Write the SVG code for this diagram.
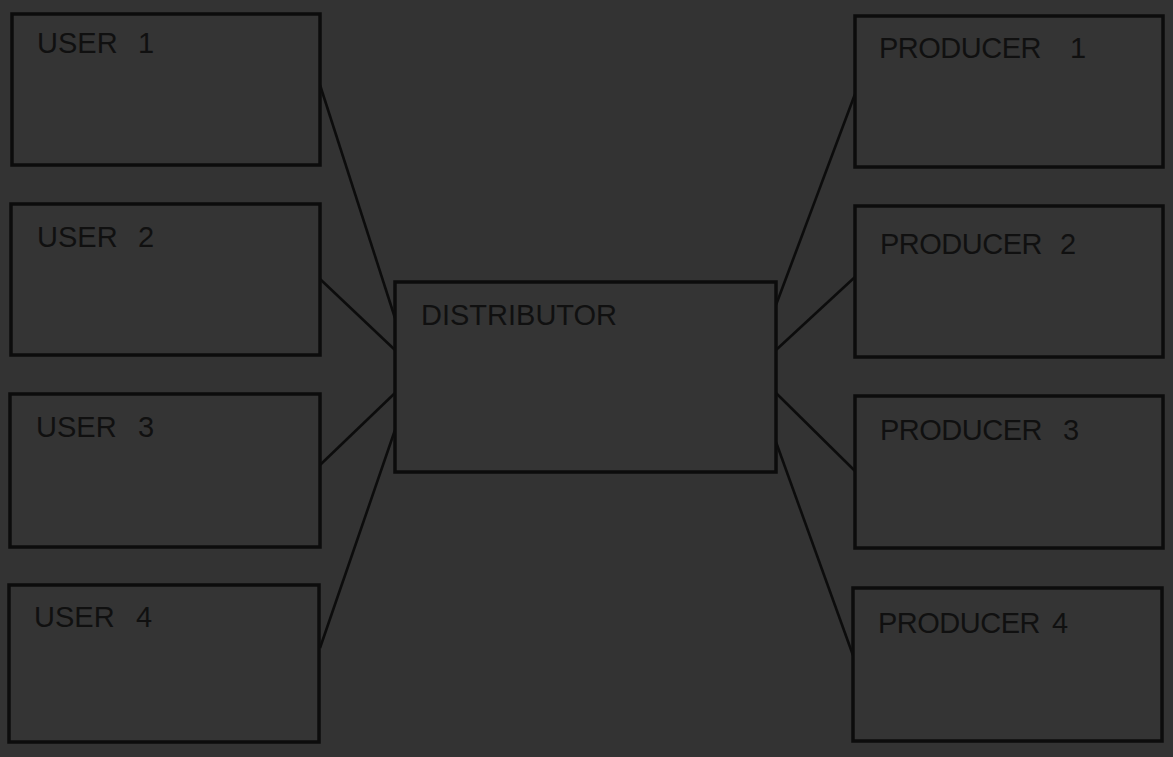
<svg xmlns="http://www.w3.org/2000/svg" width="1173" height="757" viewBox="0 0 1173 757">
<style>
.bg{fill:#333333}
.box{fill:#343434;stroke:#0c0c0c;stroke-width:3.5}
.lbl{font-family:"Liberation Sans",Arial,sans-serif;font-size:29px;fill:#101010}
.prod{letter-spacing:-0.5px}
.conn line{stroke:#0c0c0c;stroke-width:2.6}
</style>
<rect class="bg" x="0" y="0" width="1173" height="757"/>
<g id="connectors" class="conn">
<line x1="320" y1="85" x2="395" y2="318"/>
<line x1="320" y1="279" x2="395" y2="350"/>
<line x1="320" y1="465" x2="395" y2="393"/>
<line x1="320" y1="648" x2="395" y2="430"/>
<line x1="776" y1="305" x2="855" y2="94"/>
<line x1="776" y1="350" x2="855" y2="277"/>
<line x1="776" y1="393" x2="855" y2="471"/>
<line x1="776" y1="442" x2="854" y2="658"/>
</g>
<g id="user1"><rect class="box" x="12" y="14" width="308" height="151"/><text class="lbl" x="37" y="53">USER<tspan x="138">1</tspan></text></g>
<g id="user2"><rect class="box" x="11" y="204" width="309" height="151"/><text class="lbl" x="37" y="247">USER<tspan x="138">2</tspan></text></g>
<g id="user3"><rect class="box" x="10" y="394" width="310" height="153"/><text class="lbl" x="36" y="437">USER<tspan x="138">3</tspan></text></g>
<g id="user4"><rect class="box" x="9" y="585" width="310" height="157"/><text class="lbl" x="34" y="627">USER<tspan x="136">4</tspan></text></g>
<g id="distributor"><rect class="box" x="395" y="282" width="381" height="190"/><text class="lbl" x="421" y="325">DISTRIBUTOR</text></g>
<g id="producer1"><rect class="box" x="855" y="16" width="308" height="151"/><text class="lbl prod" x="879" y="58">PRODUCER<tspan x="1070">1</tspan></text></g>
<g id="producer2"><rect class="box" x="855" y="206" width="308" height="151"/><text class="lbl prod" x="880" y="254">PRODUCER<tspan x="1060">2</tspan></text></g>
<g id="producer3"><rect class="box" x="855" y="396" width="308" height="152"/><text class="lbl prod" x="880" y="440">PRODUCER<tspan x="1063">3</tspan></text></g>
<g id="producer4"><rect class="box" x="853" y="588" width="309" height="153"/><text class="lbl prod" x="878" y="633">PRODUCER<tspan x="1052">4</tspan></text></g>
</svg>
